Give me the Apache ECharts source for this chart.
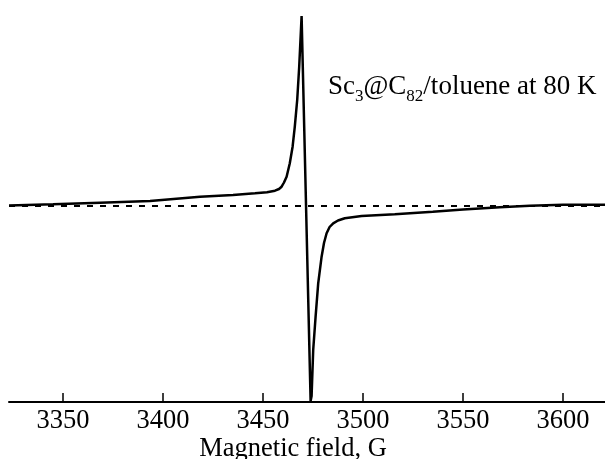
<!DOCTYPE html>
<html>
<head>
<meta charset="utf-8">
<script src="https://cdn.jsdelivr.net/npm/echarts@6/dist/echarts.min.js"></script>
<style>
  html, body { margin: 0; padding: 0; background: #fff; }
  #chart { width: 605px; height: 459px; }
</style>
</head>
<body>
<div id="chart"></div>
<script>
// field (G) and EPR derivative signal (arb. units, baseline = 0)
var fields = [3323, 3345, 3368.5, 3393.5, 3418.5, 3435, 3446, 3452, 3456, 3458,
  3459.3, 3460.5, 3461.8, 3463.4, 3464.8, 3465.9, 3467.1, 3468.1, 3468.9, 3469.3,
  3469.8, 3473.8, 3474.3, 3475.1, 3476.3, 3477.6, 3479.3, 3480.5, 3481.8, 3483.3,
  3485.1, 3487.5, 3490.9, 3499.3, 3515.9, 3534.9, 3550, 3568.4, 3583.4, 3600, 3621];
var signal = [0.5, 1.8, 3.3, 5, 9.3, 11, 12.7, 13.8, 15.3, 17,
  19.3, 23.5, 29.3, 42.7, 59.3, 79.3, 106, 139.3, 173, 190,
  192, -195, -190, -144, -110.7, -77.3, -50.7, -37, -27.3, -21,
  -17.3, -14.5, -12.3, -10, -8.3, -5.7, -3.5, -1.3, 0.3, 1.2, 1.2];
var xTicks = [3350, 3400, 3450, 3500, 3550, 3600];

var font = 'Liberation Serif';
var chart = echarts.init(document.getElementById('chart'));

var pts = fields.map(function (f, i) { return [f, signal[i]]; });

chart.setOption({
  animation: false,
  title: {
    left: 323,
    top: 68,
    text: '{n|Sc}{s|3}{n|@C}{s|82}{n|/toluene at 80 K}',
    textStyle: {
      rich: {
        n: { fontFamily: font, fontSize: 27, fontWeight: 'normal', color: '#000', verticalAlign: 'bottom', padding: [0, 0, 5, 0] },
        s: { fontFamily: font, fontSize: 17, fontWeight: 'normal', color: '#000', verticalAlign: 'bottom' }
      }
    }
  },
  grid: { left: 9, right: 0, top: 10, bottom: 57, outerBoundsMode: 'none', containLabel: false },
  xAxis: {
    type: 'value',
    min: 3323,
    max: 3621,
    name: 'Magnetic field, G',
    nameLocation: 'middle',
    nameGap: 34,
    nameMoveOverlap: false,
    nameTextStyle: { fontFamily: font, fontSize: 26.5, color: '#000', padding: [0, 28, 0, 0] },
    axisLine: { onZero: false, lineStyle: { color: '#000', width: 2 } },
    axisTick: { show: true, inside: true, length: 9, customValues: xTicks, lineStyle: { color: '#000', width: 1.5 } },
    splitLine: { show: false },
    axisLabel: {
      fontFamily: font, fontSize: 26.5, color: '#000', margin: 6,
      customValues: xTicks,
      formatter: function (v) { return String(v); }
    }
  },
  yAxis: {
    type: 'value',
    min: -196,
    max: 196,
    show: false
  },
  series: [{
    type: 'line',
    data: pts,
    showSymbol: false,
    lineStyle: { color: '#000', width: 2.5 },
    markLine: {
      silent: true,
      symbol: 'none',
      label: { show: false },
      lineStyle: { color: '#000', width: 2, type: [6, 7] },
      data: [{ yAxis: 0 }]
    }
  }]
});
</script>
</body>
</html>
